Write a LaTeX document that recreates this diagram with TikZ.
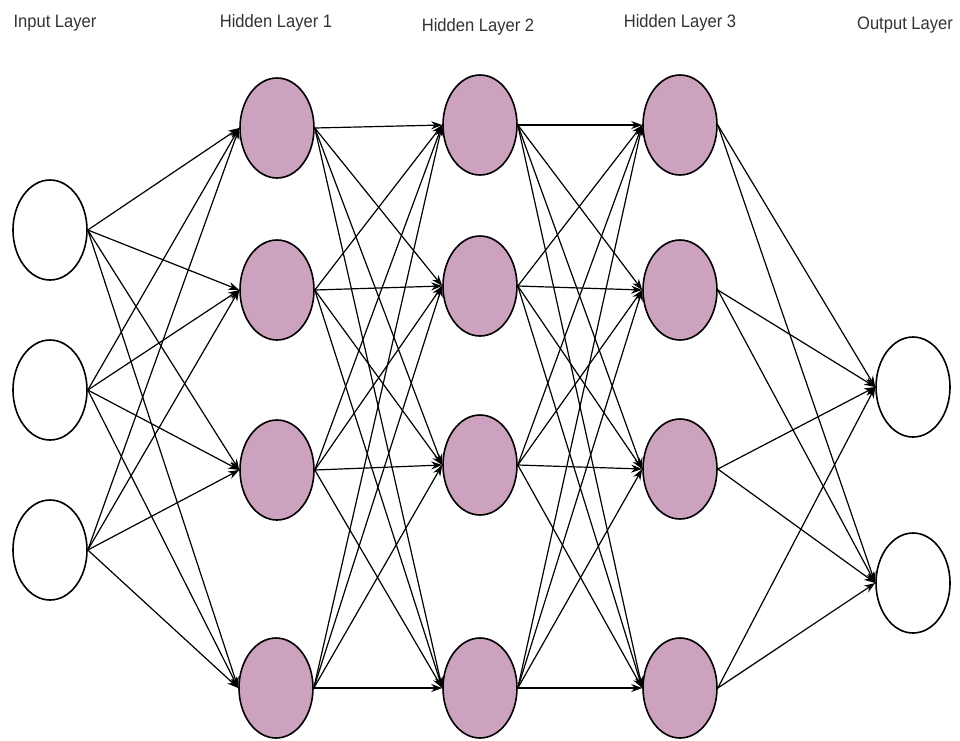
\documentclass[tikz,border=0pt]{standalone}
\usepackage{fontspec}
\setmainfont{Liberation Sans}
\usetikzlibrary{shapes.geometric,arrows.meta}
\definecolor{neuronfill}{RGB}{205,162,190}
\begin{document}
\begin{tikzpicture}[x=1pt,y=-1pt,
  neuron/.style={ellipse,draw=black,line width=1.6pt,minimum width=74pt,minimum height=100pt,inner sep=0pt},
  inneuron/.style={neuron,fill=white},
  hidneuron/.style={neuron,fill=neuronfill},
  link/.style={draw=black,line width=1.2pt,-{Stealth[length=11pt,width=8pt]}},
  layerlabel/.style={font=\fontsize{18}{20}\selectfont,text=black!80,xscale=0.92}]
\useasboundingbox[fill=white] (0,0) rectangle (960,740);

% layer titles
\node[layerlabel] (t0) at (55,23)  {Input Layer};
\node[layerlabel] (t1) at (276,23) {Hidden Layer 1};
\node[layerlabel] (t2) at (478,27) {Hidden Layer 2};
\node[layerlabel] (t3) at (680,23) {Hidden Layer 3};
\node[layerlabel] (t4) at (905,25) {Output Layer};

% input layer
\node[inneuron] (i1) at (50,230) {};
\node[inneuron] (i2) at (50,390) {};
\node[inneuron] (i3) at (50,550) {};

% hidden layer 1
\node[hidneuron] (a1) at (277,128) {};
\node[hidneuron] (a2) at (277,290) {};
\node[hidneuron] (a3) at (277,470) {};
\node[hidneuron] (a4) at (276,688) {};

% hidden layer 2
\node[hidneuron] (b1) at (480,125) {};
\node[hidneuron] (b2) at (480,286) {};
\node[hidneuron] (b3) at (480,465) {};
\node[hidneuron] (b4) at (480,688) {};

% hidden layer 3
\node[hidneuron] (c1) at (680,125) {};
\node[hidneuron] (c2) at (680,290) {};
\node[hidneuron] (c3) at (680,469) {};
\node[hidneuron] (c4) at (680,688) {};

% output layer
\node[inneuron] (o1) at (913,387) {};
\node[inneuron] (o2) at (913,583) {};

% fully connected links
\foreach \s in {1,2,3}
  \foreach \t in {1,2,3,4}
    \draw[link] (i\s.east) -- (a\t.west);
\foreach \s in {1,2,3,4}
  \foreach \t in {1,2,3,4}
    \draw[link] (a\s.east) -- (b\t.west);
\foreach \s in {1,2,3,4}
  \foreach \t in {1,2,3,4}
    \draw[link] (b\s.east) -- (c\t.west);
\foreach \s in {1,2,3,4}
  \foreach \t in {1,2}
    \draw[link] (c\s.east) -- (o\t.west);
\end{tikzpicture}
\end{document}
